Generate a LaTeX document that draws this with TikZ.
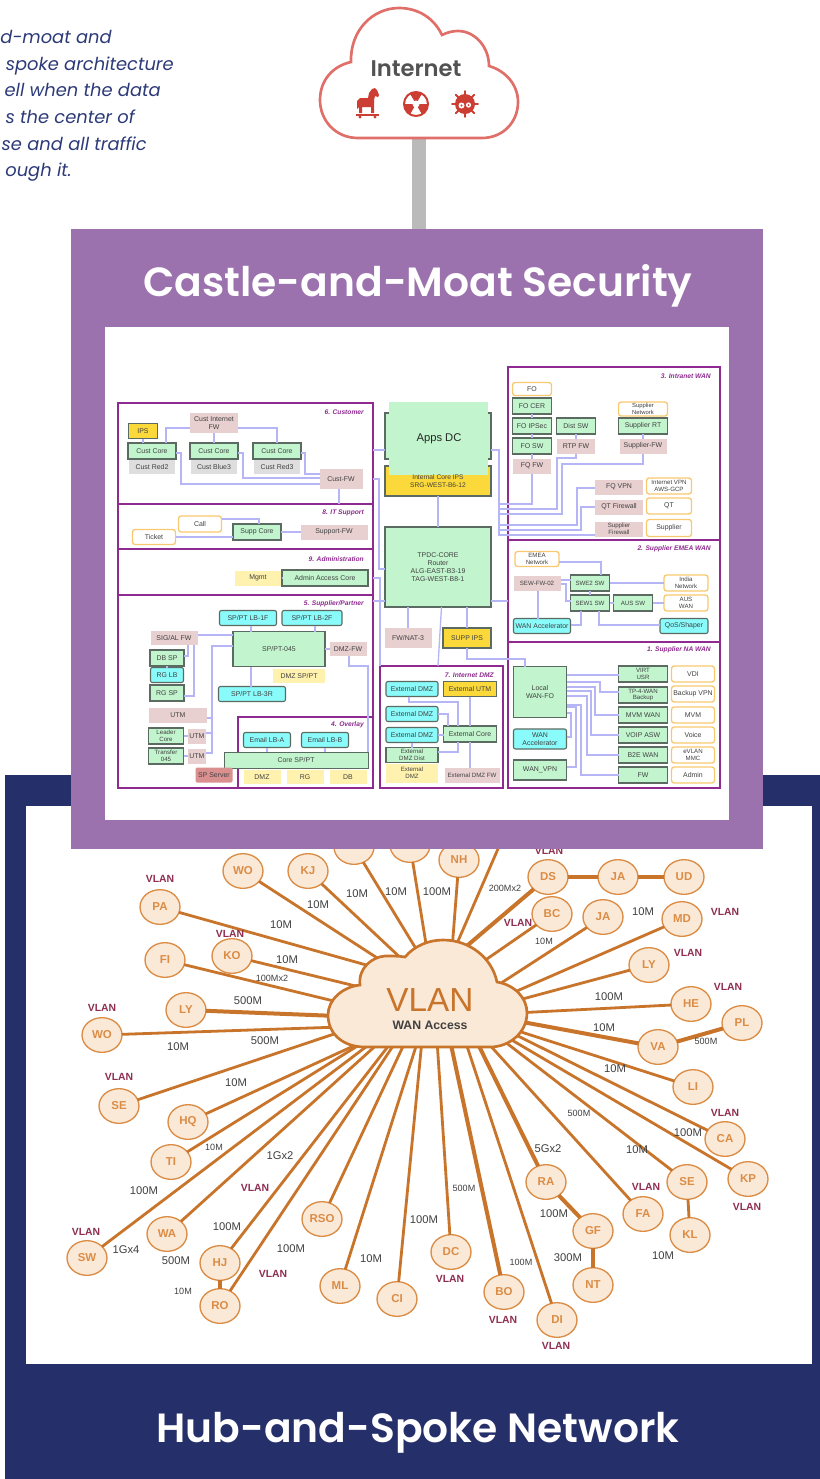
\documentclass[tikz,border=0pt]{standalone}
\usepackage{fontspec}
\usetikzlibrary{shapes.geometric}
\setmainfont{Liberation Sans}
\newfontfamily\titlefont{Poppins}[BoldFont=Poppins SemiBold]
\definecolor{castlepurple}{HTML}{9B72AE}
\definecolor{hubnavy}{HTML}{25306B}
\definecolor{framepurple}{HTML}{8E2A90}
\definecolor{wireblue}{HTML}{B6B6F6}
\definecolor{coregreen}{HTML}{C2F5CE}
\definecolor{coreedge}{HTML}{5C6B62}
\definecolor{fwpink}{HTML}{E8CFD0}
\definecolor{serverred}{HTML}{DB9090}
\definecolor{ipsyellow}{HTML}{FBD93A}
\definecolor{notecream}{HTML}{FFF2AE}
\definecolor{lbcyan}{HTML}{8AFBFB}
\definecolor{siteedge}{HTML}{F8C870}
\definecolor{spokeorange}{HTML}{C8742A}
\definecolor{sitefill}{HTML}{FBE9D8}
\definecolor{siteline}{HTML}{DB8C45}
\definecolor{vlanred}{HTML}{8E2F52}
\definecolor{threatred}{HTML}{CC3E34}
\definecolor{cloudred}{HTML}{E06F6A}
\definecolor{textnavy}{HTML}{2C3A78}
\tikzset{
  boxsize/.style 2 args={minimum width=#1*0.75pt,minimum height=#2*0.75pt},
  anybox/.style={rectangle,inner sep=0pt,outer sep=0pt,align=center,text=black!75,font=\fontsize{5.2}{5.9}\selectfont},
  corebox/.style={anybox,fill=coregreen,draw=coreedge,line width=1pt},
  flatcore/.style={anybox,fill=coregreen},
  pinkbox/.style={anybox,fill=fwpink},
  ipsbox/.style={anybox,fill=ipsyellow,draw=coreedge,line width=0.8pt},
  creambox/.style={anybox,fill=notecream},
  cyanbox/.style={anybox,fill=lbcyan,draw=coreedge,line width=0.8pt,rounded corners=1.5pt},
  sitebox/.style={anybox,fill=white,draw=siteedge,line width=1pt,rounded corners=2pt},
  greybox/.style={anybox,fill=black!13},
  zonebox/.style={rectangle,draw=framepurple,line width=1.4pt,inner sep=0pt,outer sep=0pt},
  zonetitle/.style={anchor=east,inner sep=0pt,text=framepurple,font=\fontsize{5}{5.4}\selectfont\bfseries\itshape},
  wire/.style={draw=wireblue,line width=1pt},
  site/.style={ellipse,draw=siteline,fill=sitefill,line width=1pt,inner sep=0pt,outer sep=0pt,minimum width=30pt,minimum height=26pt,text=siteline,font=\fontsize{8.6}{8.6}\selectfont\bfseries},
  vlantag/.style={inner sep=0pt,text=vlanred,font=\fontsize{7.8}{8}\selectfont\bfseries},
  rate/.style={inner sep=0pt,text=black!75,font=\fontsize{8.4}{8.4}\selectfont},
  smallrate/.style={inner sep=0pt,text=black!75,font=\fontsize{6.8}{7}\selectfont},
  blurb/.style={anchor=east,inner sep=0pt,text height=10pt,text depth=3pt,text=textnavy,font=\titlefont\fontsize{13.4}{16}\selectfont\itshape},
  paneltitle/.style={inner sep=0pt,text=white,font=\titlefont\fontsize{30.6}{32}\selectfont\bfseries}
}
\begin{document}
\begin{tikzpicture}[x=0.75pt,y=-0.75pt]
    \useasboundingbox (0,0) rectangle (820,1479);

    % text at the top left
    \node[blurb] (blurb1) at (112,39) {d-moat and};
    \node[blurb] (blurb2) at (174,66) {spoke architecture};
    \node[blurb] (blurb3) at (161,92) {ell when the data};
    \node[blurb] (blurb4) at (135,119) {s the center of};
    \node[blurb] (blurb5) at (147,146) {se and all traffic};
    \node[blurb] (blurb6) at (72,172) {ough it.};

    % hub and spoke panel
    \fill[hubnavy] (5,775) rectangle (820,1479);
    \fill[white] (26,806) rectangle (812,1364);
    \node[paneltitle] (hubtitle) at (418,1433) {Hub-and-Spoke Network};

    \begin{scope}
        \node[site] (wo) at (243,871) {WO};
        \node[site] (kj) at (308,871) {KJ};
        \node[site] (hiddena) at (354,847) {};
        \node[site] (hiddenb) at (410,845) {};
        \node[site] (nh) at (459,860) {NH};
        \node[site] (pa) at (160,907) {PA};
        \node[site] (fi) at (165,960) {FI};
        \node[site] (ko) at (232,956) {KO};
        \node[site] (ly) at (186,1010) {LY};
        \node[site] (wob) at (102,1035) {WO};
        \node[site] (se) at (119,1106) {SE};
        \node[site] (hq) at (188,1122) {HQ};
        \node[site] (ti) at (171,1162) {TI};
        \node[site] (wa) at (167,1234) {WA};
        \node[site] (sw) at (87,1258) {SW};
        \node[site] (hj) at (220,1263) {HJ};
        \node[site] (ro) at (220,1306) {RO};
        \node[site] (rso) at (322,1219) {RSO};
        \node[site] (ml) at (340,1286) {ML};
        \node[site] (ci) at (397,1299) {CI};
        \node[site] (dc) at (451,1252) {DC};
        \node[site] (bo) at (504,1292) {BO};
        \node[site] (di) at (557,1320) {DI};
        \node[site] (ra) at (546,1182) {RA};
        \node[site] (gf) at (593,1231) {GF};
        \node[site] (nt) at (593,1285) {NT};
        \node[site] (fa) at (643,1214) {FA};
        \node[site] (seb) at (687,1182) {SE};
        \node[site] (kl) at (690,1235) {KL};
        \node[site] (ca) at (725,1139) {CA};
        \node[site] (kp) at (748,1179) {KP};
        \node[site] (li) at (693,1087) {LI};
        \node[site] (va) at (658,1047) {VA};
        \node[site] (pl) at (742,1023) {PL};
        \node[site] (he) at (691,1004) {HE};
        \node[site] (lyb) at (649,965) {LY};
        \node[site] (md) at (682,919) {MD};
        \node[site] (ja) at (603,917) {JA};
        \node[site] (bc) at (552,914) {BC};
        \node[site] (ds) at (548,877) {DS};
        \node[site] (jab) at (618,877) {JA};
        \node[site] (ud) at (684,877) {UD};

        % where each spoke meets the cloud
        \coordinate (hiddenc) at (504,835);
        \coordinate (wofoot) at (385,963);
        \coordinate (kjfoot) at (405,962);
        \coordinate (hiddenafoot) at (418,952);
        \coordinate (hiddenbfoot) at (427,950);
        \coordinate (nhfoot) at (452,950);
        \coordinate (hiddencfoot) at (455,948);
        \coordinate (dsfoot) at (462,950);
        \coordinate (bcfoot) at (484,961);
        \coordinate (jafoot) at (495,987);
        \coordinate (mdfoot) at (510,994);
        \coordinate (lybfoot) at (515,1001);
        \coordinate (hefoot) at (515,1013);
        \coordinate (vafoot) at (517,1021);
        \coordinate (lifoot) at (515,1030);
        \coordinate (cafoot) at (510,1032);
        \coordinate (kpfoot) at (505,1036);
        \coordinate (sebfoot) at (500,1038);
        \coordinate (fafoot) at (487,1042);
        \coordinate (rafoot) at (476,1040);
        \coordinate (difoot) at (465,1040);
        \coordinate (bofoot) at (450,1040);
        \coordinate (dcfoot) at (437,1040);
        \coordinate (cifoot) at (422,1040);
        \coordinate (mlfoot) at (418,1040);
        \coordinate (rsofoot) at (406,1040);
        \coordinate (rofoot) at (397,1040);
        \coordinate (hjfoot) at (393,1040);
        \coordinate (wafoot) at (382,1040);
        \coordinate (swfoot) at (375,1040);
        \coordinate (tifoot) at (367,1040);
        \coordinate (hqfoot) at (360,1043);
        \coordinate (sefoot) at (343,1031);
        \coordinate (wobfoot) at (340,1027);
        \coordinate (lyfoot) at (337,1016);
        \coordinate (fifoot) at (342,1003);
        \coordinate (kofoot) at (368,989);
        \coordinate (pafoot) at (377,968);
    \end{scope}

    \begin{scope}[every edge/.style={draw=spokeorange,line width=2.1pt}]
        \path [-] (wo) edge (wofoot);
        \path [-] (kj) edge (kjfoot);
        \path [-] (hiddena) edge (hiddenafoot);
        \path [-] (hiddenb) edge (hiddenbfoot);
        \path [-] (nh) edge (nhfoot);
        \path [-] (hiddenc) edge (hiddencfoot);
        \path [-] (bc) edge (bcfoot);
        \path [-] (ja) edge (jafoot);
        \path [-] (md) edge (mdfoot);
        \path [-] (lyb) edge (lybfoot);
        \path [-] (he) edge (hefoot);
        \path [-] (li) edge (lifoot);
        \path [-] (ca) edge (cafoot);
        \path [-] (kp) edge (kpfoot);
        \path [-] (seb) edge (sebfoot);
        \path [-] (fa) edge (fafoot);
        \path [-] (di) edge (difoot);
        \path [-] (dc) edge (dcfoot);
        \path [-] (ci) edge (cifoot);
        \path [-] (ml) edge (mlfoot);
        \path [-] (rso) edge (rsofoot);
        \path [-] (ro) edge (rofoot);
        \path [-] (hj) edge (hjfoot);
        \path [-] (wa) edge (wafoot);
        \path [-] (sw) edge (swfoot);
        \path [-] (ti) edge (tifoot);
        \path [-] (hq) edge (hqfoot);
        \path [-] (se) edge (sefoot);
        \path [-] (wob) edge (wobfoot);
        \path [-] (fi) edge (fifoot);
        \path [-] (ko) edge (kofoot);
        \path [-] (pa) edge (pafoot);
        \path [-] (seb) edge (kl);
    \end{scope}
    \begin{scope}[every edge/.style={draw=spokeorange,line width=3pt}]
        \path [-] (ds) edge (dsfoot);
        \path [-] (va) edge (vafoot);
        \path [-] (ra) edge (rafoot);
        \path [-] (bo) edge (bofoot);
        \path [-] (ly) edge (lyfoot);
        \path [-] (ds) edge (jab);
        \path [-] (jab) edge (ud);
        \path [-] (va) edge (pl);
        \path [-] (hj) edge (ro);
        \path [-] (ra) edge (gf);
        \path [-] (gf) edge (nt);
    \end{scope}

    % VLAN cloud
    \draw[fill=sitefill,draw=spokeorange,line width=2pt] (365,1047)
        .. controls (342,1047) and (328,1033) .. (328,1015)
        .. controls (328,1000) and (342,987) .. (360,985)
        .. controls (358,968) and (372,957) .. (385,956)
        .. controls (392,956) and (400,956) .. (405,957)
        .. controls (415,945) and (430,940) .. (443,940)
        .. controls (470,940) and (492,958) .. (497,982)
        .. controls (515,985) and (527,998) .. (527,1013)
        .. controls (527,1032) and (510,1047) .. (490,1047) -- cycle;
    \node[inner sep=0pt,text=spokeorange,font=\fontsize{25}{25}\selectfont] (hublabel) at (430,1000) {VLAN};
    \node[inner sep=0pt,text=black!75,font=\fontsize{9.2}{9.2}\selectfont\bfseries] (hubsub) at (430,1025) {WAN Access};

    \node[vlantag] (tag1) at (160,879) {VLAN};
    \node[vlantag] (tag2) at (230,934) {VLAN};
    \node[vlantag] (tag3) at (102,1008) {VLAN};
    \node[vlantag] (tag4) at (119,1077) {VLAN};
    \node[vlantag] (tag5) at (549,851) {VLAN};
    \node[vlantag] (tag6) at (518,923) {VLAN};
    \node[vlantag] (tag7) at (725,912) {VLAN};
    \node[vlantag] (tag8) at (688,953) {VLAN};
    \node[vlantag] (tag9) at (728,987) {VLAN};
    \node[vlantag] (tag10) at (255,1188) {VLAN};
    \node[vlantag] (tag11) at (86,1232) {VLAN};
    \node[vlantag] (tag12) at (273,1274) {VLAN};
    \node[vlantag] (tag13) at (725,1113) {VLAN};
    \node[vlantag] (tag14) at (646,1187) {VLAN};
    \node[vlantag] (tag15) at (747,1207) {VLAN};
    \node[vlantag] (tag16) at (450,1279) {VLAN};
    \node[vlantag] (tag17) at (503,1320) {VLAN};
    \node[vlantag] (tag18) at (556,1346) {VLAN};

    \node[rate] (rate1) at (318,905) {10M};
    \node[rate] (rate2) at (357,894) {10M};
    \node[rate] (rate3) at (396,892) {10M};
    \node[rate] (rate4) at (437,892) {100M};
    \node[rate] (rate5) at (281,925) {10M};
    \node[rate] (rate6) at (287,960) {10M};
    \node[smallrate] (rate7) at (272,978) {100Mx2};
    \node[rate] (rate8) at (248,1001) {500M};
    \node[rate] (rate9) at (178,1047) {10M};
    \node[rate] (rate10) at (265,1041) {500M};
    \node[rate] (rate11) at (236,1083) {10M};
    \node[smallrate] (rate12) at (505,888) {200Mx2};
    \node[smallrate] (rate13) at (544,941) {10M};
    \node[rate] (rate14) at (643,912) {10M};
    \node[rate] (rate15) at (609,997) {100M};
    \node[rate] (rate16) at (604,1028) {10M};
    \node[smallrate] (rate17) at (706,1041) {500M};
    \node[rate] (rate18) at (615,1069) {10M};
    \node[smallrate] (rate19) at (214,1147) {10M};
    \node[rate] (rate20) at (280,1156) {1Gx2};
    \node[rate] (rate21) at (144,1191) {100M};
    \node[rate] (rate22) at (227,1227) {100M};
    \node[rate] (rate23) at (126,1250) {1Gx4};
    \node[rate] (rate24) at (176,1261) {500M};
    \node[smallrate] (rate25) at (183,1291) {10M};
    \node[rate] (rate26) at (291,1249) {100M};
    \node[rate] (rate27) at (371,1259) {10M};
    \node[rate] (rate28) at (424,1220) {100M};
    \node[smallrate] (rate29) at (464,1188) {500M};
    \node[smallrate] (rate30) at (521,1262) {100M};
    \node[rate] (rate31) at (548,1149) {5Gx2};
    \node[rate] (rate32) at (554,1214) {100M};
    \node[rate] (rate33) at (568,1258) {300M};
    \node[smallrate] (rate34) at (579,1113) {500M};
    \node[rate] (rate35) at (637,1150) {10M};
    \node[rate] (rate36) at (688,1133) {100M};
    \node[rate] (rate37) at (663,1256) {10M};

    % internet cloud
    \coordinate (cloudfoot) at (419,138);
    \coordinate (castletop) at (419,229);
    \draw[draw=black!27,line width=10.5pt] (cloudfoot) -- (castletop);
    \draw[fill=white,draw=cloudred,line width=2pt] (358,138)
        .. controls (335,138) and (320,120) .. (320,100)
        .. controls (320,80) and (333,66) .. (351,62)
        .. controls (350,30) and (373,8) .. (399,8)
        .. controls (418,8) and (434,18) .. (442,35)
        .. controls (448,32) and (453,31) .. (458,31)
        .. controls (475,31) and (489,47) .. (489,66)
        .. controls (506,71) and (518,85) .. (518,102)
        .. controls (518,122) and (503,138) .. (482,138) -- cycle;
    \node[inner sep=0pt,text=black!68,font=\titlefont\fontsize{17}{17}\selectfont\bfseries] (internet) at (416,69) {Internet};

    % trojan horse
    \fill[threatred] (359,113) -- (359,107) -- (357,109) -- (357,101) -- (360,98) -- (368,98)
        -- (369,93) -- (372,89) -- (375,88) -- (377,90) -- (379,95) -- (378,97) -- (375,96)
        -- (374,100) -- (374,113) -- (371,113) -- (371,107) -- (362,107) -- (362,113) -- cycle;
    \fill[threatred] (356,113.5) rectangle (379,115.5);
    \fill[threatred] (360,117) circle[radius=1.2pt];
    \fill[threatred] (375,117) circle[radius=1.2pt];

    % radiation
    \begin{scope}[shift={(416,104)},x=0.75pt,y=0.75pt]
        \draw[threatred,line width=1.5pt,fill=white] (0,0) circle[radius=12];
        \fill[threatred] (0,0) -- (60:12) arc[start angle=60,end angle=120,radius=12*0.75pt] -- cycle;
        \fill[threatred] (0,0) -- (180:12) arc[start angle=180,end angle=240,radius=12*0.75pt] -- cycle;
        \fill[threatred] (0,0) -- (300:12) arc[start angle=300,end angle=360,radius=12*0.75pt] -- cycle;
        \fill[white] (0,0) circle[radius=3.5];
    \end{scope}

    % virus
    \begin{scope}[shift={(465,104)},x=0.75pt,y=0.75pt]
        \draw[threatred,line width=1.4pt,line cap=round]
            (0:8) -- (0:13) (45:8) -- (45:13) (90:8) -- (90:13) (135:8) -- (135:13)
            (180:8) -- (180:13) (225:8) -- (225:13) (270:8) -- (270:13) (315:8) -- (315:13);
        \fill[threatred] (0,0) circle[radius=10];
        \fill[white] (-3.5,-1.5) circle[radius=3];
        \fill[white] (3.5,-1) circle[radius=2.6];
        \fill[threatred] (-3.5,-1.5) circle[radius=1.1];
        \fill[threatred] (3.5,-1) circle[radius=1];
    \end{scope}

    % castle panel
    \fill[castlepurple] (71,229) rectangle (763,849);
    \fill[white] (105,327) rectangle (729,820);
    \node[paneltitle] (castletitle) at (418,286) {Castle-and-Moat Security};

    % zones
    \node[zonebox,boxsize={255}{101}] (customer) at (245.5,453.5) {};
    \node[zonebox,boxsize={255}{45}] (itsupport) at (245.5,526.5) {};
    \node[zonebox,boxsize={255}{46}] (administration) at (245.5,572) {};
    \node[zonebox,boxsize={255}{193}] (supplier) at (245.5,691.5) {};
    \node[zonebox,boxsize={135}{71}] (overlay) at (305.5,752.5) {};
    \node[zonebox,boxsize={212}{173}] (intranet) at (614,453.5) {};
    \node[zonebox,boxsize={212}{102}] (emea) at (614,591) {};
    \node[zonebox,boxsize={212}{146}] (nawan) at (614,715) {};
    \node[zonebox,boxsize={123}{122}] (idmz) at (441.5,727) {};
    \node[zonetitle] (customertitle) at (364,412) {6. Customer};
    \node[zonetitle] (ittitle) at (364,513) {8. IT Support};
    \node[zonetitle] (admintitle) at (364,559) {9. Administration};
    \node[zonetitle] (suppliertitle) at (364,604) {5. Supplier/Partner};
    \node[zonetitle] (overlaytitle) at (364,725) {4. Overlay};
    \node[zonetitle] (intranettitle) at (711,376) {3. Intranet WAN};
    \node[zonetitle] (emeatitle) at (711,549) {2. Supplier EMEA WAN};
    \node[zonetitle] (natitle) at (711,650) {1. Supplier NA WAN};
    \node[zonetitle] (idmztitle) at (494,675) {7. Internet DMZ};

    % customer
    \node[ipsbox,boxsize={29}{15}] (custips) at (143,431) {IPS};
    \node[corebox,boxsize={48}{16}] (custcorea) at (152,451) {Cust Core};
    \node[greybox,boxsize={46}{14}] (custreda) at (152,467) {Cust Red2};
    \node[corebox,boxsize={48}{16}] (custcoreb) at (214,451) {Cust Core};
    \node[greybox,boxsize={46}{14}] (custblue) at (214,467) {Cust Blue3};
    \node[corebox,boxsize={48}{16}] (custcorec) at (277,451) {Cust Core};
    \node[greybox,boxsize={46}{14}] (custredb) at (277,467) {Cust Red3};
    \node[pinkbox,boxsize={48}{20}] (custinet) at (214,423) {Cust Internet\\FW};
    \node[pinkbox,boxsize={43}{20}] (custfw) at (341,479) {Cust-FW};

    % it support and administration
    \node[sitebox,boxsize={43}{16}] (call) at (200,524) {Call};
    \node[sitebox,boxsize={43}{15}] (ticket) at (154,537) {Ticket};
    \node[corebox,boxsize={48}{16}] (suppcore) at (257,532) {Supp Core};
    \node[pinkbox,boxsize={67}{15}] (supportfw) at (334,532) {Support-FW};
    \node[creambox,boxsize={47}{15}] (mgmt) at (258,578) {Mgmt};
    \node[corebox,boxsize={86}{16}] (admincore) at (325,578) {Admin Access Core};

    % supplier and partner
    \node[cyanbox,boxsize={57}{15}] (lbone) at (248,618) {SP/PT LB-1F};
    \node[cyanbox,boxsize={60}{15}] (lbtwo) at (312,618) {SP/PT LB-2F};
    \node[corebox,boxsize={92}{35}] (sppt) at (279,649) {SP/PT-045};
    \node[pinkbox,boxsize={47}{14}] (sigfw) at (174,638) {SIG/AL FW};
    \node[corebox,boxsize={34}{16}] (dbsp) at (167,658) {DB SP};
    \node[cyanbox,boxsize={33}{15}] (rglb) at (167,675) {RG LB};
    \node[corebox,boxsize={34}{16}] (rgsp) at (167,693) {RG SP};
    \node[pinkbox,boxsize={37}{14}] (dmzfw) at (348,649) {DMZ-FW};
    \node[creambox,boxsize={52}{14}] (dmzsppt) at (299,676) {DMZ SP/PT};
    \node[cyanbox,boxsize={67}{15}] (lbthree) at (252,694) {SP/PT LB-3R};
    \node[pinkbox,boxsize={58}{15}] (utma) at (178,715) {UTM};
    \node[corebox,boxsize={35}{16},font=\fontsize{4.6}{5.4}\selectfont] (leader) at (166,736) {Leader\\Core};
    \node[pinkbox,boxsize={18}{15}] (utmb) at (197,736) {UTM};
    \node[corebox,boxsize={35}{16},font=\fontsize{4.6}{5.4}\selectfont] (transfer) at (166,756) {Transfer\\045};
    \node[pinkbox,boxsize={18}{15}] (utmc) at (197,756) {UTM};
    \node[cyanbox,boxsize={47}{15}] (emaila) at (267,740) {Email LB-A};
    \node[cyanbox,boxsize={47}{15}] (emailb) at (325,740) {Email LB-B};
    \node[flatcore,draw=coreedge,line width=0.7pt,boxsize={144}{16}] (coresppt) at (296,760) {Core SP/PT};
    \node[anybox,fill=serverred,rounded corners=1pt,boxsize={37}{15}] (spserver) at (214,775) {SP Server};
    \node[creambox,boxsize={37}{14}] (dmzbox) at (262,777) {DMZ};
    \node[creambox,boxsize={37}{14}] (rgbox) at (305,777) {RG};
    \node[creambox,boxsize={37}{14}] (dbbox) at (348,777) {DB};

    % core column
    \node[corebox,boxsize={106}{46}] (appsouter) at (438,436) {};
    \node[ipsbox,boxsize={106}{30}] (coreips) at (438,481) {};
    \node[corebox,boxsize={106}{80}] (tpdc) at (438,567) {TPDC-CORE\\Router\\ALG-EAST-B3-19\\TAG-WEST-B8-1};
    \node[pinkbox,boxsize={47}{20}] (fwnat) at (408,638) {FW/NAT-3};
    \node[ipsbox,boxsize={48}{20}] (suppips) at (467,638) {SUPP IPS};

    % intranet wan
    \node[sitebox,boxsize={39}{13}] (fo) at (532,389) {FO};
    \node[corebox,boxsize={39}{16}] (focer) at (532,406) {FO CER};
    \node[corebox,boxsize={39}{16}] (foipsec) at (532,426) {FO IPSec};
    \node[corebox,boxsize={39}{16}] (fosw) at (532,446) {FO SW};
    \node[pinkbox,boxsize={38}{15}] (fofw) at (532,466) {FQ FW};
    \node[corebox,boxsize={39}{16}] (distsw) at (576,426) {Dist SW};
    \node[pinkbox,boxsize={38}{15}] (rtpfw) at (576,446) {RTP FW};
    \node[sitebox,boxsize={49}{14},font=\fontsize{4.4}{4.8}\selectfont] (supnet) at (643,409) {Supplier\\Network};
    \node[corebox,boxsize={49}{16}] (suprt) at (643,426) {Supplier RT};
    \node[pinkbox,boxsize={47}{15}] (supfw) at (643,446) {Supplier-FW};
    \node[pinkbox,boxsize={48}{15}] (fqvpn) at (619,487) {FQ VPN};
    \node[pinkbox,boxsize={48}{15}] (qtfw) at (619,507) {QT Firewall};
    \node[pinkbox,boxsize={48}{15},font=\fontsize{4.6}{5}\selectfont] (supfirewall) at (619,529) {Supplier\\Firewall};
    \node[sitebox,boxsize={45}{16},font=\fontsize{4.6}{5.2}\selectfont] (inetvpn) at (669,486) {Internet VPN\\AWS-GCP};
    \node[sitebox,boxsize={45}{16}] (qt) at (669,506) {QT};
    \node[sitebox,boxsize={45}{17}] (supbox) at (669,528) {Supplier};

    % emea wan
    \node[sitebox,boxsize={44}{15},font=\fontsize{4.6}{5.2}\selectfont] (emeanet) at (537,559) {EMEA\\Network};
    \node[pinkbox,boxsize={47}{15},font=\fontsize{4.6}{5.2}\selectfont] (sewfw) at (537,583) {SEW-FW-02};
    \node[corebox,boxsize={39}{16},font=\fontsize{4.6}{5.2}\selectfont] (swetwo) at (590,583) {SWE2 SW};
    \node[sitebox,boxsize={44}{16},font=\fontsize{4.6}{5.2}\selectfont] (india) at (686,583) {India\\Network};
    \node[corebox,boxsize={39}{16},font=\fontsize{4.6}{5.2}\selectfont] (seweone) at (590,603) {SEW1 SW};
    \node[corebox,boxsize={39}{16},font=\fontsize{4.6}{5.2}\selectfont] (aussw) at (633,603) {AUS SW};
    \node[sitebox,boxsize={44}{16},font=\fontsize{4.6}{5.2}\selectfont] (auswan) at (686,603) {AUS\\WAN};
    \node[cyanbox,boxsize={57}{15}] (wanacca) at (542,626) {WAN Accelerator};
    \node[cyanbox,boxsize={48}{15}] (qos) at (684,626) {QoS/Shaper};

    % internet dmz
    \node[cyanbox,boxsize={52}{15}] (extdmza) at (412,689) {External DMZ};
    \node[ipsbox,boxsize={53}{15}] (extutm) at (470,689) {External UTM};
    \node[cyanbox,boxsize={52}{15}] (extdmzb) at (412,714) {External DMZ};
    \node[cyanbox,boxsize={52}{15}] (extdmzc) at (412,735) {External DMZ};
    \node[corebox,boxsize={53}{16}] (extcore) at (470,734) {External Core};
    \node[corebox,boxsize={52}{15},font=\fontsize{4.6}{5.2}\selectfont] (extdist) at (412,755) {External\\DMZ Dist};
    \node[creambox,boxsize={52}{19},font=\fontsize{4.6}{5.2}\selectfont] (extcream) at (412,773) {External\\DMZ};
    \node[pinkbox,boxsize={55}{15},font=\fontsize{4.6}{5.2}\selectfont] (extfw) at (472,775) {External DMZ FW};

    % supplier na wan
    \node[corebox,boxsize={53}{51}] (localwan) at (540,692) {Local\\WAN-FO};
    \node[cyanbox,boxsize={53}{20}] (wanaccb) at (540,739) {WAN\\Accelerator};
    \node[corebox,boxsize={53}{20}] (wanvpn) at (540,770) {WAN\_VPN};
    \node[corebox,boxsize={49}{16},font=\fontsize{4.6}{5.2}\selectfont] (virt) at (643,674) {VIRT\\USR};
    \node[corebox,boxsize={49}{16},font=\fontsize{4.6}{5.2}\selectfont] (tpfour) at (643,695) {TP-4-WAN\\Backup};
    \node[corebox,boxsize={49}{16}] (mvmwan) at (643,715) {MVM WAN};
    \node[corebox,boxsize={49}{16}] (voip) at (643,735) {VOIP ASW};
    \node[corebox,boxsize={49}{16}] (btwoe) at (643,755) {B2E WAN};
    \node[corebox,boxsize={49}{16}] (nafw) at (643,775) {FW};
    \node[sitebox,boxsize={43}{16}] (vdi) at (693,674) {VDI};
    \node[sitebox,boxsize={43}{16}] (backup) at (693,694) {Backup VPN};
    \node[sitebox,boxsize={43}{16}] (mvm) at (693,715) {MVM};
    \node[sitebox,boxsize={43}{16}] (voice) at (693,735) {Voice};
    \node[sitebox,boxsize={43}{16},font=\fontsize{4.6}{5.2}\selectfont] (evlan) at (693,755) {eVLAN\\MMC};
    \node[sitebox,boxsize={43}{16}] (adminsite) at (693,775) {Admin};

    % wires
    \begin{scope}[every path/.style={wire}]
        \draw (custips) -- (custips |- custcorea.north);
        \draw (custcorea.north -| 166,0) |- (custinet.west |- 0,428);
        \draw (custinet) -- (custcoreb);
        \draw (custinet.east |- 0,428) -| (custcorec.north);
        \draw (custcorec.east |- 0,453) -- (305,453) |- (custfw.west |- 0,474);
        \draw (custcoreb.east |- 0,453) -- (243,453) |- (custfw.west |- 0,478);
        \draw (custcorea.east |- 0,453) -- (181,453) |- (custfw.west |- 0,484);
        \draw (custfw.south -| 339,0) -- (customer.south -| 339,0);
        \draw (call.east |- 0,519) -| (suppcore.north -| 259,0);
        \draw (ticket.east) -- (suppcore.west |- ticket.east);
        \draw (suppcore) -- (supportfw);
        \draw (mgmt) -- (admincore);

        \draw (lbone.south -| 251,0) -- (sppt.north -| 251,0);
        \draw (lbtwo.south -| 315,0) -- (sppt.north -| 315,0);
        \draw (sppt.south -| 251,0) -- (lbthree.north -| 251,0);
        \draw (sppt) -- (dmzfw);
        \draw (sigfw.east |- 0,635) -- (sppt.west |- 0,635);
        \draw (sigfw.south -| 188,0) |- (dbsp.east |- 0,656);
        \draw (sigfw.south -| 194,0) |- (rgsp.east |- 0,696);
        \draw (dbsp) -- (rglb);
        \draw (sppt.west |- 0,646) -| (212,753) -- (utmc.east |- 0,753);
        \draw (212,718) -- (utma.east |- 0,718);
        \draw (212,733) -- (utmb.east |- 0,733);
        \draw (leader) -- (utmb);
        \draw (transfer) -- (utmc);
        \draw (dmzfw.south -| 349,0) |- (368,666) -- (coresppt.north -| 368,0);
        \draw (emaila.south -| 267,0) -- (coresppt.north -| 267,0);
        \draw (emailb.south -| 325,0) -- (coresppt.north -| 325,0);

        \draw (customer.east |- 0,450) -- (appsouter.west |- 0,450);
        \draw (customer.east |- 0,479) -- (379,479) |- (tpdc.west |- 0,569);
        \draw (administration.east |- 0,578) -- (380,578) -- (idmz.north -| 380,0);
        \draw (supplier.east |- 0,601) -- (tpdc.west |- 0,601);
        \draw (coreips) -- (tpdc);
        \draw (tpdc.south -| fwnat.north) -- (fwnat.north);
        \draw (tpdc.south -| idmz.north) -- (idmz.north -| tpdc.south);
        \draw (tpdc.south -| suppips.north) -- (suppips.north);
        \draw (suppips.south) |- (525,659) -- (localwan.north -| 525,0);
        \draw (tpdc.east |- 0,601) -- (emea.west |- 0,601);

        \draw (appsouter.east |- 0,450) -- (499,450) -- (499,535) -- (supfirewall.west |- 0,535);
        \draw (499,504) -| (fofw.south);
        \draw (499,509) -- (557,509) |- (576,458) -- (rtpfw.south);
        \draw (499,514) -- (562,514) |- (643,464) -- (supfw.south);
        \draw (499,525) -- (577,525) |- (fqvpn.west |- 0,488);
        \draw (499,530) -- (581,530) |- (qtfw.west);
        \draw (focer) -- (foipsec);
        \draw (foipsec) -- (fosw);
        \draw (fosw) -- (fofw);
        \draw (distsw) -- (rtpfw);
        \draw (suprt) -- (supfw);

        \draw (emeanet.east |- 0,562) -| (swetwo.north -| 601,0);
        \draw (sewfw.east |- 0,580) -- (swetwo.west |- 0,580);
        \draw (swetwo) -- (india);
        \draw (sewfw.south -| 538,0) -- (wanacca.north -| 538,0);
        \draw (sewfw.east |- 0,584) -- (566,584) |- (seweone.west |- 0,601);
        \draw (swetwo) -- (seweone);
        \draw (seweone) -- (aussw);
        \draw (aussw) -- (auswan);
        \draw (seweone.south -| 581,0) |- (wanacca.east |- 0,625);
        \draw (seweone.south -| 599,0) |- (qos.west |- 0,625);

        \draw (extdmza.south -| 409,0) |- (458,702) -- (extcore.north -| 458,0);
        \draw (extcore.south -| 458,0) |- (extdist.east |- 0,752);
        \draw (extutm) -- (extcore);
        \draw (extcore) -- (extfw.north -| extcore);
        \draw (extdmzb.east |- 0,714) -| (extcore.north -| 448,0);
        \draw (extdmzc.east) -- (extcore.west |- extdmzc.east);
        \draw (extdmzc) -- (extdist);

        \draw (localwan.east |- 0,675) -- (virt.west |- 0,675);
        \draw (localwan.east |- 0,682) -- (600,682) |- (tpfour.west |- 0,692);
        \draw (localwan.east |- 0,687) -- (595,687) |- (mvmwan.west);
        \draw (localwan.east |- 0,691) -- (591,691) |- (voip.west);
        \draw (localwan.east |- 0,696) -- (587,696) |- (btwoe.west);
        \draw (localwan.east |- 0,705) -- (581,705) |- (nafw.west);
        \draw (wanaccb.east |- 0,737) -- (571,737) |- (localwan.east |- 0,713);
        \draw (wanvpn.east |- 0,767) -- (576,767) |- (localwan.east |- 0,707);
    \end{scope}

    % apps dc sits over the core box
    \fill[coregreen] (389,402) rectangle (488,475);
    \node[inner sep=0pt,text=black!85,font=\fontsize{8.4}{8.4}\selectfont] (appsdc) at (439,439) {Apps DC};
    \node[inner sep=0pt,align=center,text=black!75,font=\fontsize{5}{6}\selectfont] (coreipstext) at (438,481) {Internal Core IPS\\SRG-WEST-B6-12};
\end{tikzpicture}
\end{document}
